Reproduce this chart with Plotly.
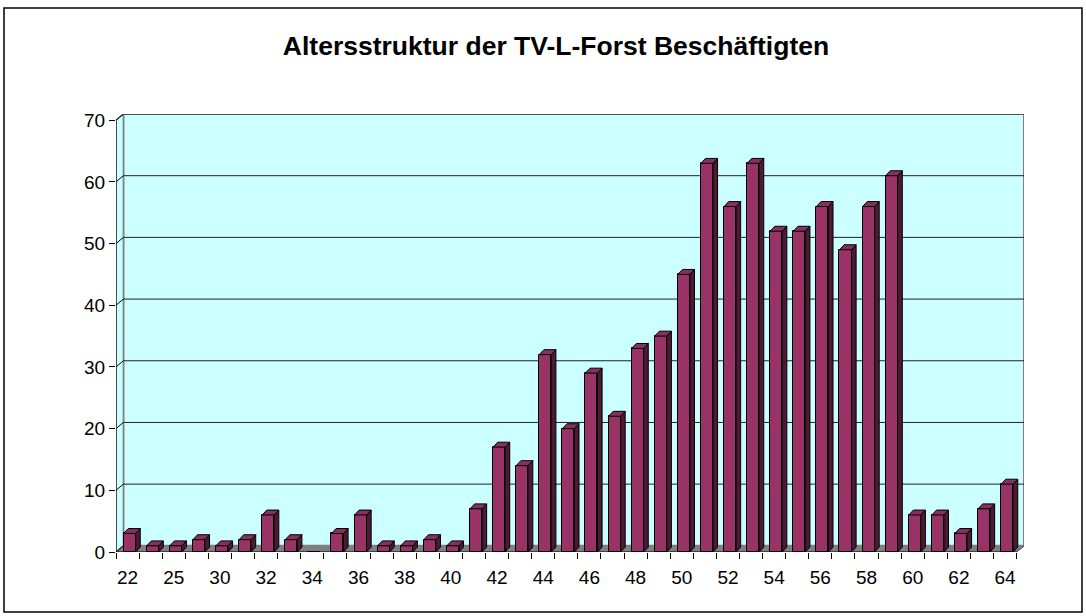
import plotly.graph_objects as go

# ---- data ----
ages = ["22", "24", "25", "28", "30", "31", "32", "33", "34", "35", "36", "37", "38", "39",
        "40", "41", "42", "43", "44", "45", "46", "47", "48", "49", "50", "51", "52", "53",
        "54", "55", "56", "57", "58", "59", "60", "61", "62", "63", "64"]
counts = [3, 1, 1, 2, 1, 2, 6, 2, 0, 3, 6, 1, 1, 2,
          1, 7, 17, 14, 32, 20, 29, 22, 33, 35, 45, 63, 56, 63,
          52, 52, 56, 49, 56, 61, 6, 6, 3, 7, 11]
tick_labels = ages[::2]
y_ticks = [0, 10, 20, 30, 40, 50, 60, 70]
title = "Altersstruktur der TV-L-Forst Beschäftigten"

# ---- style ----
W, H = 1086, 616
ML, MR, MT, MB = 116, 62, 114, 64
n = len(ages)
DX, DY = 0.32, 1.0          # depth of back wall (category units / value units)
BW, BOFF = 0.52, -0.17      # bar width / offset
BDX, BDY = 0.2, 0.8         # bar depth
YMAX = 70
FRONT = "#993366"
TOP = "#86305C"
SIDE = "#4D1A33"
WALL = "#CCFFFF"
FONT = "Liberation Sans, Arial, sans-serif"

xs = list(range(n))
x_lo, x_hi = -0.5, n - 0.5

fig = go.Figure()

# front faces
fig.add_trace(go.Bar(x=xs, y=counts, width=BW, offset=BOFF,
                     marker=dict(color=FRONT, line=dict(color="black", width=1)),
                     hoverinfo="skip", showlegend=False))

# side and top faces
sx, sy, tx, ty = [], [], [], []
for k, v in zip(xs, counts):
    if v <= 0:
        continue
    x0 = k + BOFF
    x1 = x0 + BW
    sx += [x1, x1 + BDX, x1 + BDX, x1, x1, None]
    sy += [0, BDY, v + BDY, v, 0, None]
    tx += [x0, x1, x1 + BDX, x0 + BDX, x0, None]
    ty += [v, v, v + BDY, v + BDY, v, None]
fig.add_trace(go.Scatter(x=sx, y=sy, mode="lines", fill="toself", fillcolor=SIDE,
                         line=dict(color="black", width=1), hoverinfo="skip", showlegend=False))
fig.add_trace(go.Scatter(x=tx, y=ty, mode="lines", fill="toself", fillcolor=TOP,
                         line=dict(color="black", width=1), hoverinfo="skip", showlegend=False))

shapes = []
# back wall
shapes.append(dict(type="rect", xref="x", yref="y", x0=x_lo + DX, x1=x_hi + DX, y0=DY, y1=YMAX + DY,
                   fillcolor=WALL, line=dict(color="#808080", width=2), layer="below"))
# left wall
shapes.append(dict(type="path", xref="x", yref="y",
                   path=f"M {x_lo},0 L {x_lo + DX},{DY} L {x_lo + DX},{YMAX + DY} L {x_lo},{YMAX} Z",
                   fillcolor=WALL, line=dict(color="#808080", width=1.5), layer="below"))
# floor
shapes.append(dict(type="path", xref="x", yref="y",
                   path=f"M {x_lo},0 L {x_hi},0 L {x_hi + DX},{DY} L {x_lo + DX},{DY} Z",
                   fillcolor="#808080", line=dict(color="#808080", width=1), layer="below"))
# gridlines
for v in y_ticks[1:]:
    shapes.append(dict(type="line", xref="x", yref="y", x0=x_lo + DX, x1=x_hi + DX, y0=v + DY, y1=v + DY,
                       line=dict(color="#202020", width=1), layer="below"))
for v in y_ticks:
    shapes.append(dict(type="line", xref="x", yref="y", x0=x_lo, x1=x_lo + DX, y0=v, y1=v + DY,
                       line=dict(color="black", width=1), layer="below"))
# front axes lines
shapes.append(dict(type="line", xref="x", yref="y", x0=x_lo, x1=x_lo, y0=0, y1=YMAX,
                   line=dict(color="black", width=1)))
shapes.append(dict(type="line", xref="x", yref="y", x0=x_lo, x1=x_hi, y0=0, y1=0,
                   line=dict(color="black", width=1)))
shapes.append(dict(type="line", xref="x", yref="y", x0=x_hi, x1=x_hi + DX, y0=0, y1=DY,
                   line=dict(color="#404040", width=1)))

# outer border of chart (pixel -> paper)
pw, ph = W - ML - MR, H - MT - MB
def px(xp): return (xp - ML) / pw
def py(yp): return (H - MB - yp) / ph
shapes.append(dict(type="rect", xref="paper", yref="paper", x0=px(4), x1=px(1082), y0=py(612), y1=py(8),
                   line=dict(color="black", width=1.5), fillcolor="rgba(0,0,0,0)", layer="below"))

fig.update_layout(
    width=W, height=H,
    margin=dict(l=ML, r=MR, t=MT, b=MB),
    paper_bgcolor="white", plot_bgcolor="white",
    font=dict(family=FONT, size=19, color="black"),
    title=dict(text=f"<b>{title}</b>", x=556 / W, xref="container", xanchor="center",
               y=1 - 46 / H, yref="container", yanchor="middle",
               font=dict(family=FONT, size=26.5, color="black")),
    shapes=shapes,
    bargap=0,
    xaxis=dict(range=[x_lo, x_hi + DX], showgrid=False, zeroline=False, showline=False,
               tickmode="array", tickvals=xs[::2], ticktext=tick_labels, ticks="",
               ticklabelstandoff=12,
               minor=dict(tickmode="array", tickvals=[k - 0.5 for k in range(n + 1)],
                          ticks="outside", ticklen=6, tickcolor="black", tickwidth=1, showgrid=False),
               tickfont=dict(size=19), fixedrange=True),
    yaxis=dict(range=[0, YMAX + DY], showgrid=False, zeroline=False, showline=False,
               tickmode="array", tickvals=y_ticks, ticks="outside", ticklen=6,
               tickcolor="black", tickfont=dict(size=19), fixedrange=True),
)

fig.write_html("out.html", config={"displayModeBar": False},
               post_script="document.body.style.margin='0';document.body.style.overflow='hidden';")
